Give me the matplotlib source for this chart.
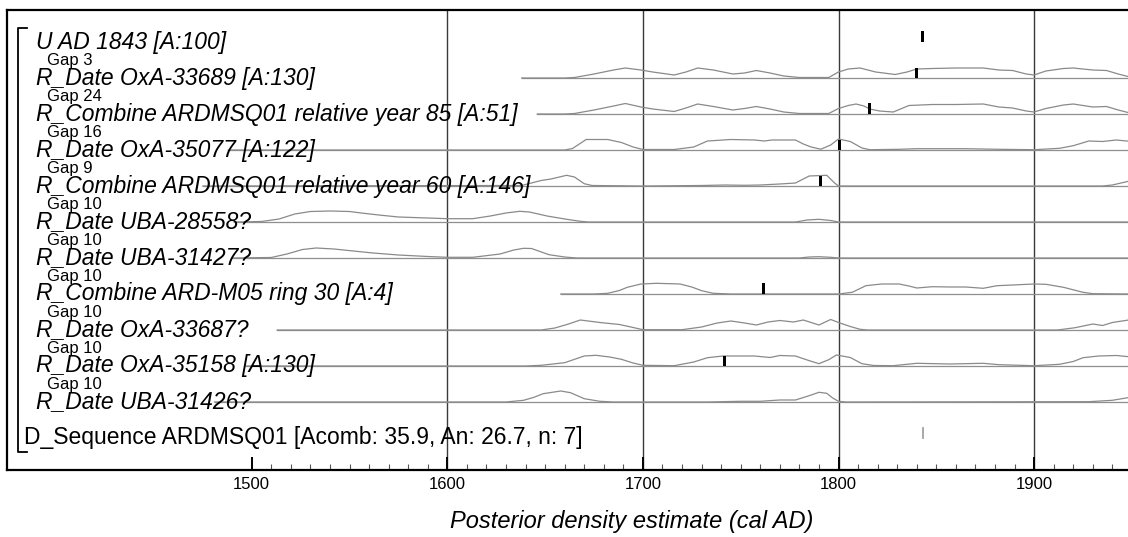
import numpy as np
import matplotlib
matplotlib.use('Agg')
import matplotlib.pyplot as plt
from matplotlib.ticker import FixedLocator
from matplotlib.transforms import blended_transform_factory

plt.rcParams['font.family'] = ['Liberation Sans', 'DejaVu Sans']

# ── labels ──────────────────────────────────────────────────────────────────
ROW_LABELS = ["U AD 1843 [A:100]",
              "R_Date OxA-33689 [A:130]",
              "R_Combine ARDMSQ01 relative year 85 [A:51]",
              "R_Date OxA-35077 [A:122]",
              "R_Combine ARDMSQ01 relative year 60 [A:146]",
              "R_Date UBA-28558?",
              "R_Date UBA-31427?",
              "R_Combine ARD-M05 ring 30 [A:4]",
              "R_Date OxA-33687?",
              "R_Date OxA-35158 [A:130]",
              "R_Date UBA-31426?"]
GAP_LABELS = ["Gap 3", "Gap 24", "Gap 16", "Gap 9", "Gap 10",
              "Gap 10", "Gap 10", "Gap 10", "Gap 10", "Gap 10"]
SEQ_LABEL = "D_Sequence ARDMSQ01 [Acomb: 35.9, An: 26.7, n: 7]"

TICK_YEARS = [1500, 1600, 1700, 1800, 1900]

# ── prior densities (cal AD, relative height) read row by row ───────────────
OXA33689_YR = [1638, 1660, 1665, 1675, 1685, 1691, 1699, 1705, 1716, 1722, 1728, 1736,
               1746, 1752, 1758, 1765, 1772, 1780, 1795, 1800, 1805, 1811, 1819, 1829,
               1835, 1840, 1848, 1860, 1874, 1882, 1889, 1896, 1900, 1906, 1915, 1920,
               1930, 1937, 1943, 1950]
OXA33689_D = [0, 0, 0.5, 4, 8, 10, 8, 6, 3, 6, 10, 8,
              4, 5, 7.5, 5, 2, 0.5, 0.5, 6, 9, 10, 6, 3.5,
              6, 9, 9.5, 10, 10, 8, 7.5, 4, 3, 7, 9.5, 10,
              8, 7.5, 4, 0.5]

COMB85_YR = [1646, 1660, 1665, 1675, 1685, 1691, 1699, 1705, 1716, 1722, 1728, 1736,
             1746, 1752, 1758, 1765, 1772, 1780, 1795, 1800, 1805, 1809, 1813, 1816,
             1821, 1828, 1836, 1848, 1860, 1874, 1882, 1889, 1896, 1900, 1906, 1915,
             1920, 1930, 1937, 1943, 1950]
COMB85_D = [0, 0, 0.5, 4, 8, 10.5, 7, 5, 2.5, 6, 10, 7.5,
            4, 5.5, 7.5, 5, 2, 0.5, 0.5, 5.5, 8.5, 10, 8, 5,
            3, 2, 8.5, 9.5, 9.5, 10, 7, 6, 3, 2, 5.5, 9,
            10, 7, 7.5, 4, 0.5]

OXA35077_YR = [1488, 1660, 1664, 1671, 1682, 1689, 1695, 1700, 1716, 1726, 1733, 1745,
               1757, 1762, 1766, 1778, 1782, 1786, 1791, 1796, 1800, 1806, 1812, 1816,
               1831, 1840, 1865, 1882, 1900, 1913, 1920, 1928, 1935, 1942, 1950]
OXA35077_D = [0, 0, 1.5, 10.5, 10.5, 7.5, 3, 0.5, 0.5, 3, 9, 10.5,
              10, 9, 10, 10, 6, 3, 0.8, 5, 11, 8.5, 2, 0.3,
              0.7, 1.3, 1.3, 0.7, 0.3, 1.7, 4.3, 9, 8.5, 10, 8.5]

COMB60_YR = [1475, 1638, 1643, 1648, 1653, 1661, 1665, 1670, 1674, 1700, 1730, 1742,
             1752, 1760, 1770, 1778, 1785, 1794, 1798, 1800, 1935, 1940, 1950]
COMB60_D = [0, 0.5, 3, 5.5, 7, 10.7, 9, 2.3, 0.5, 0, 0.5, 1,
            0.7, 1, 2, 3, 10, 10.7, 3, 0, 0, 1, 5.5]

UBA28558_YR = [1491, 1505, 1514, 1522, 1530, 1540, 1550, 1556, 1565, 1575, 1590, 1600,
               1613, 1622, 1630, 1637, 1642, 1651, 1661, 1668, 1672, 1778, 1784, 1790,
               1796, 1800, 1950]
UBA28558_D = [0, 0.5, 3, 8, 10.5, 11, 10.5, 9, 7, 5, 4, 3.3,
              3.3, 6, 9, 10.7, 10, 6, 2.7, 0.7, 0, 0, 2, 2.7,
              1.5, 0, 0]

UBA31427_YR = [1490, 1510, 1518, 1526, 1533, 1542, 1552, 1562, 1575, 1590, 1600, 1613,
               1627, 1634, 1639, 1643, 1652, 1660, 1666, 1780, 1785, 1790, 1796, 1800,
               1950]
UBA31427_D = [0, 0.5, 4, 8.5, 10, 9, 7, 5, 3, 1.5, 0.7, 0.7,
              4, 8, 9.7, 9.5, 3.3, 1, 0, 0, 1, 1.3, 0.7, 0,
              0]

ARDM05_YR = [1658, 1675, 1682, 1688, 1692, 1699, 1707, 1719, 1725, 1730, 1736, 1745,
             1800, 1807, 1814, 1822, 1831, 1836, 1840, 1848, 1857, 1865, 1874, 1881,
             1889, 1900, 1906, 1915, 1925, 1930, 1950]
ARDM05_D = [0, 0, 0.7, 3.5, 6.7, 10, 10.7, 10, 7, 3.3, 0.7, 0,
            0, 1.7, 8.3, 10, 10, 8, 6, 7.3, 7, 7, 5.7, 8.3,
            9, 10, 9.7, 6.7, 1.7, 0.3, 0]

OXA33687_YR = [1513, 1648, 1655, 1662, 1668, 1678, 1688, 1695, 1700, 1720, 1730, 1738,
               1745, 1752, 1758, 1764, 1770, 1777, 1782, 1790, 1796, 1800, 1806, 1811,
               1815, 1912, 1921, 1930, 1935, 1940, 1950]
OXA33687_D = [0, 0, 2, 6, 10, 7.5, 5.5, 2.5, 0.3, 0.3, 3, 7,
              9, 7, 5, 8, 9.5, 8, 10, 5, 10.5, 7.5, 3.5, 0.7,
              0, 0, 2.3, 6, 4.5, 7.5, 10.5]

OXA35158_YR = [1497, 1640, 1648, 1660, 1670, 1676, 1683, 1689, 1695, 1700, 1716, 1726,
               1733, 1741, 1757, 1765, 1770, 1778, 1784, 1790, 1795, 1799, 1806, 1812,
               1818, 1828, 1840, 1857, 1874, 1882, 1900, 1913, 1920, 1925, 1933, 1942,
               1950]
OXA35158_D = [0, 0, 0.7, 3.3, 10, 10.7, 9, 6.7, 3, 0.7, 0.3, 4,
              8.3, 10, 10, 8.5, 10.5, 10, 6, 2.3, 6.3, 11, 8.5, 2.3,
              0.5, 0.3, 2.7, 2, 2.7, 1.3, 0.3, 1.7, 4.5, 8.3, 10, 10.5,
              9]

UBA31426_YR = [1481, 1630, 1639, 1644, 1649, 1658, 1663, 1670, 1678, 1685, 1733, 1750,
               1760, 1770, 1778, 1785, 1790, 1794, 1797, 1800, 1804, 1928, 1940, 1950]
UBA31426_D = [0, 0, 1.7, 4.5, 8.3, 11, 9.3, 3.3, 0.7, 0, 0, 0.7,
              0.7, 2, 2, 6.3, 9.7, 8.7, 4, 0.7, 0, 0.3, 1.7, 5]

# ── posterior peaks (row index, cal AD, relative height) ────────────────────
POST_ROW = [0, 1, 2, 3, 4, 7, 9]
POST_YEAR = [1843, 1840, 1816, 1800.5, 1791, 1761.5, 1741.5]
POST_H = [11, 10, 11, 10, 10, 10.5, 10]
SEQ_YEAR = [1843]
SEQ_H = [11]

PRIORS = [(OXA33689_YR, OXA33689_D), (COMB85_YR, COMB85_D),
          (OXA35077_YR, OXA35077_D), (COMB60_YR, COMB60_D),
          (UBA28558_YR, UBA28558_D), (UBA31427_YR, UBA31427_D),
          (ARDM05_YR, ARDM05_D), (OXA33687_YR, OXA33687_D),
          (OXA35158_YR, OXA35158_D), (UBA31426_YR, UBA31426_D)]

ROW_PX = 36.0          # height of one row in pixels -> density scale
SEQ_ROW = len(ROW_LABELS)

fig = plt.figure(figsize=(11.28, 5.37), dpi=100)
fig.patch.set_facecolor('white')
ax = fig.add_axes([7 / 1128, 67 / 537, 1121 / 1128, 460 / 537])

ax.set_xlim(1374.9, 1948.0)
ax.set_ylim(SEQ_ROW + 0.889, -0.889)

# grid lines at the centuries (none at the first tick)
for yr in TICK_YEARS[1:]:
    ax.axvline(yr, color='#3a3a3a', lw=1.0, zorder=1)

# priors: baseline + outline
for i, (yr, d) in enumerate(PRIORS, start=1):
    yr = np.asarray(yr, dtype=float)
    d = np.asarray(d, dtype=float)
    ax.plot([yr[0], yr[-1]], [i, i], color='#8f8f8f', lw=0.9, zorder=2)
    ax.plot(yr, i - d / ROW_PX, color='#8a8a8a', lw=0.9, zorder=2)

# posteriors
ax.bar(POST_YEAR, -np.asarray(POST_H) / ROW_PX, bottom=POST_ROW, width=1.6,
       color='black', linewidth=0, zorder=3)
ax.bar(SEQ_YEAR, -np.asarray(SEQ_H) / ROW_PX, bottom=SEQ_ROW, width=0.9,
       facecolor='white', edgecolor='#a8a8a8', linewidth=0.7, zorder=3)

# labels
trans = blended_transform_factory(ax.transAxes, ax.transData)
for i, lab in enumerate(ROW_LABELS):
    ax.text(0.0256, i + 6.5 / ROW_PX, lab, transform=trans, fontsize=16.5,
            style='italic', va='baseline', ha='left', zorder=4)
for i, lab in enumerate(GAP_LABELS, start=1):
    ax.text(0.0361, i - 13 / ROW_PX, lab, transform=trans, fontsize=12,
            va='baseline', ha='left', zorder=4)
ax.text(0.0148, SEQ_ROW + 6.5 / ROW_PX, SEQ_LABEL, transform=trans,
        fontsize=16.5, va='baseline', ha='left', zorder=4)

# sequence bracket
ax.plot([0.0178, 0.0098, 0.0098, 0.0178],
        [-0.39, -0.39, SEQ_ROW + 0.39, SEQ_ROW + 0.39],
        transform=trans, color='black', lw=1.3, clip_on=False, zorder=4)

# axes styling
ax.set_yticks([])
ax.xaxis.set_major_locator(FixedLocator(TICK_YEARS))
ax.xaxis.set_minor_locator(FixedLocator(np.arange(TICK_YEARS[0] + 10, 1950, 10)))
ax.tick_params(axis='x', which='major', direction='in', length=9.5, width=1.4,
               labelsize=12, pad=5)
ax.tick_params(axis='x', which='minor', direction='in', length=4.5, width=0.8,
               color='#555555')
for side in ['top', 'bottom', 'left']:
    ax.spines[side].set_linewidth(1.6)
ax.spines['right'].set_visible(False)

ax.set_xlabel('Posterior density estimate (cal AD)', fontsize=17,
              style='italic', va='center')
ax.xaxis.set_label_coords(0.5575, -0.111)

fig.savefig('out.png', dpi=100, facecolor='white')
plt.close(fig)
